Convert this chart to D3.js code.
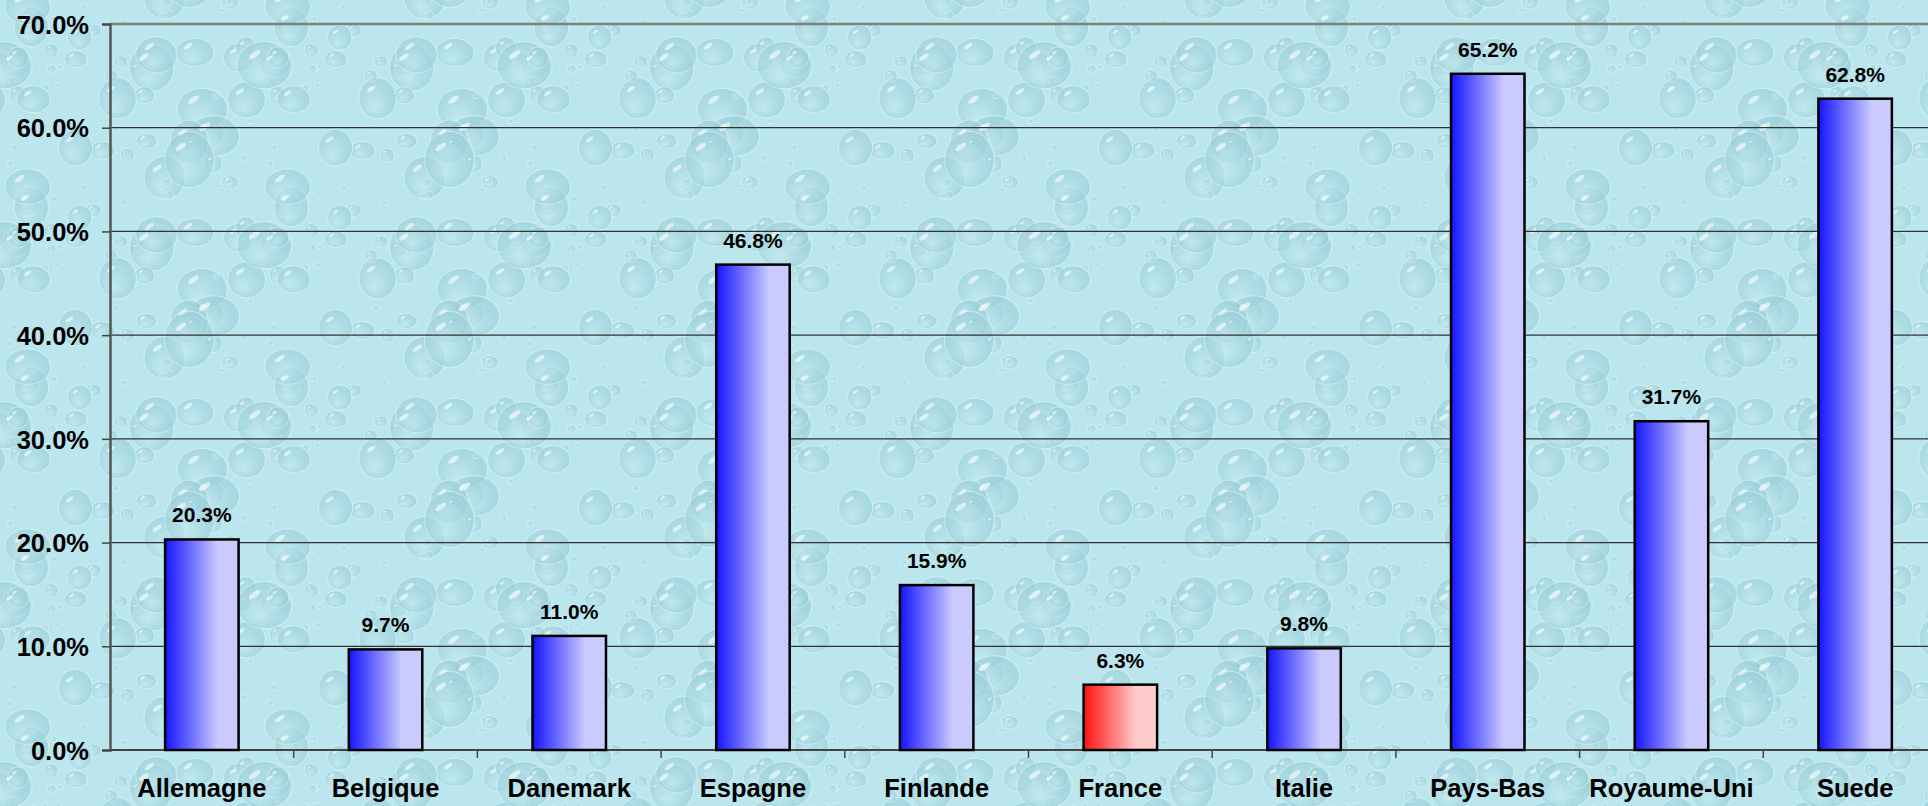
<!DOCTYPE html>
<html>
<head>
<meta charset="utf-8">
<script src="https://cdn.jsdelivr.net/npm/d3@7"></script>
<style>
html,body{margin:0;padding:0;background:#b7e3ea;overflow:hidden;}
svg{display:block;}
text{font-family:"Liberation Sans",Arial,Helvetica,sans-serif;font-weight:bold;fill:#000;}
</style>
</head>
<body>
<svg id="chart" width="1928" height="806"></svg>
<script>
// ---- data ----
const categories = ["Allemagne","Belgique","Danemark","Espagne","Finlande","France","Italie","Pays-Bas","Royaume-Uni","Suede"];
const values = [20.3, 9.7, 11.0, 46.8, 15.9, 6.3, 9.8, 65.2, 31.7, 62.8];
const highlighted = ["France"];
const yTicks = [0, 10, 20, 30, 40, 50, 60, 70];

const W = 1928, H = 806;
const margin = {left: 110, top: 24, bottom: 56};
const bandW = 183.7;
const plotRight = margin.left + bandW * categories.length;
const svg = d3.select("#chart");
const defs = svg.append("defs");

// ---- background water-drop texture (decorative, deterministic) ----
const drop = defs.append("radialGradient").attr("id","drop")
  .attr("cx","0.45").attr("cy","0.5").attr("r","0.6").attr("fx","0.4").attr("fy","0.75");
drop.append("stop").attr("offset","0%").attr("stop-color","#c6ebf0");
drop.append("stop").attr("offset","55%").attr("stop-color","#a6d6df");
drop.append("stop").attr("offset","85%").attr("stop-color","#98cdd8");
drop.append("stop").attr("offset","100%").attr("stop-color","#d6f2f5");
const tileW = 260, tileH = 180;
const pat = defs.append("pattern").attr("id","water").attr("patternUnits","userSpaceOnUse")
  .attr("width",tileW).attr("height",tileH);
pat.append("rect").attr("width",tileW).attr("height",tileH).attr("fill","#bce6ed");
function hash(i){ let x = Math.sin(i*127.1+311.7)*43758.5453; return x - Math.floor(x); }
const drops = d3.range(60).map(i => ({
  x: hash(i)*tileW, y: hash(i+100)*tileH,
  rx: 3 + Math.pow(hash(i+200),2.2)*26, k: 0.7 + hash(i+300)*0.45
}));
[-tileW,0,tileW].forEach(ox => [-tileH,0,tileH].forEach(oy => {
  const g = pat.append("g").attr("transform",`translate(${ox},${oy})`);
  g.selectAll("ellipse.d").data(drops).join("ellipse")
    .attr("cx",d=>d.x).attr("cy",d=>d.y).attr("rx",d=>d.rx).attr("ry",d=>d.rx*d.k)
    .attr("fill","url(#drop)").attr("stroke","#dcf5f8").attr("stroke-width",1).attr("opacity",0.6);
  g.selectAll("ellipse.h").data(drops).join("ellipse")
    .attr("cx",d=>d.x - d.rx*0.35).attr("cy",d=>d.y - d.rx*d.k*0.45)
    .attr("rx",d=>d.rx*0.25).attr("ry",d=>d.rx*0.1)
    .attr("transform",d=>`rotate(-35,${d.x - d.rx*0.35},${d.y - d.rx*d.k*0.45})`)
    .attr("fill","#f0fbfc").attr("opacity",0.7);
}));
svg.append("rect").attr("width",W).attr("height",H).attr("fill","url(#water)");

// ---- gradients for bars ----
function grad(id, c0, c1){
  const g = defs.append("linearGradient").attr("id",id).attr("x1","0").attr("x2","1").attr("y1","0").attr("y2","0");
  g.append("stop").attr("offset","0%").attr("stop-color",c0);
  g.append("stop").attr("offset","72%").attr("stop-color",c1);
  g.append("stop").attr("offset","100%").attr("stop-color",c1);
}
grad("gBlue","#1414ff","#cacaff");
grad("gRed","#ff1010","#ffcccc");

// ---- scales ----
const x = d3.scaleBand().domain(categories).range([margin.left, plotRight]).paddingInner(0.6).paddingOuter(0.3);
const y = d3.scaleLinear().domain([0, 70]).range([H - margin.bottom, margin.top]);

// gridlines
svg.append("g").selectAll("line").data(yTicks.filter(t => t > 0)).join("line")
  .attr("x1", margin.left).attr("x2", plotRight)
  .attr("y1", d => y(d)).attr("y2", d => y(d))
  .attr("stroke", d => d === 70 ? "#808080" : "#333")
  .attr("stroke-width", d => d === 70 ? 2.5 : 1.2);

// y axis
const yAxis = d3.axisLeft(y).tickValues(yTicks).tickSize(8).tickPadding(13)
  .tickFormat(d => d3.format(".1f")(d) + "%");
const gy = svg.append("g").attr("transform",`translate(${margin.left},0)`).call(yAxis);
gy.select(".domain").attr("stroke","#555").attr("stroke-width",2.5);
gy.selectAll(".tick line").attr("stroke","#444").attr("stroke-width",1.5);
gy.selectAll(".tick text").style("font-size","25.5px").attr("fill","#000").attr("dy","0.36em");

// x axis line + ticks at band boundaries
svg.append("line").attr("x1",margin.left).attr("x2",plotRight)
  .attr("y1",y(0)).attr("y2",y(0)).attr("stroke","#444").attr("stroke-width",2);
svg.append("g").selectAll("line").data(categories.slice(1)).join("line")
  .attr("x1", d => x(d) - x.step()*x.paddingInner()/2).attr("x2", d => x(d) - x.step()*x.paddingInner()/2)
  .attr("y1", y(0)).attr("y2", y(0) + 8).attr("stroke","#444").attr("stroke-width",1.5);

// category labels
svg.append("g").selectAll("text").data(categories).join("text")
  .attr("x", d => x(d) + x.bandwidth()/2).attr("y", H - 9)
  .attr("text-anchor","middle").style("font-size","25.5px").text(d => d);

// bars
svg.append("g").selectAll("rect").data(categories).join("rect")
  .attr("x", d => x(d)).attr("width", x.bandwidth())
  .attr("y", (d,i) => y(values[i])).attr("height", (d,i) => y(0) - y(values[i]))
  .attr("fill", d => highlighted.includes(d) ? "url(#gRed)" : "url(#gBlue)")
  .attr("stroke","#000").attr("stroke-width",2.5);

// value labels
svg.append("g").selectAll("text").data(categories).join("text")
  .attr("x", d => x(d) + x.bandwidth()/2).attr("y", (d,i) => y(values[i]) - 17)
  .attr("text-anchor","middle").style("font-size","21px")
  .text((d,i) => d3.format(".1f")(values[i]) + "%");
</script>
</body>
</html>
